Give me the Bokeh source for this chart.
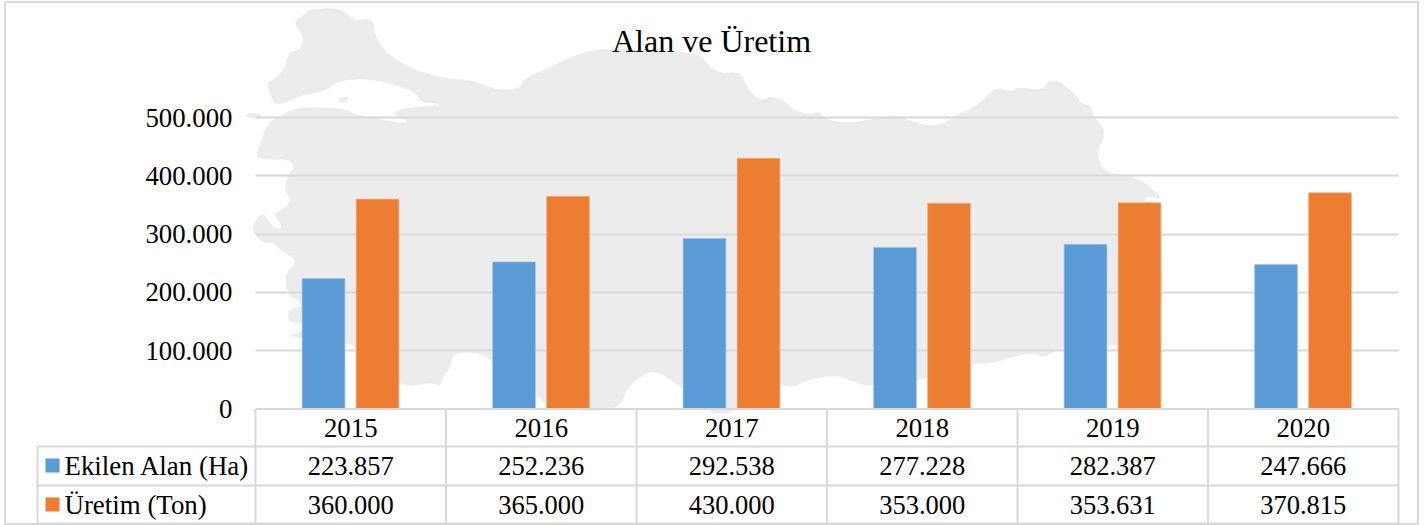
from bokeh.plotting import figure
from bokeh.models import (ColumnDataSource, Range1d, FixedTicker, Label, PolyAnnotation)
from bokeh.transform import dodge
from bokeh.embed import file_html
from bokeh.resources import INLINE

title_text = "Alan ve Üretim"
years = ["2015", "2016", "2017", "2018", "2019", "2020"]
series_names = ["Ekilen Alan (Ha)", "Üretim (Ton)"]
ekilen_alan = [223857, 252236, 292538, 277228, 282387, 247666]
uretim = [360000, 365000, 430000, 353000, 353631, 370815]
y_ticks = [0, 100000, 200000, 300000, 400000, 500000]
y_tick_labels = ["0", "100.000", "200.000", "300.000", "400.000", "500.000"]

BLUE = "#5b9bd5"
ORANGE = "#ed7d31"
LINE = "#d9d9d9"
MAP = "#ececec"
FONT = "Liberation Serif"

# decorative silhouette behind the plot, page pixels
map_outline = [
    (292,22),(307,12),(308,9),(335,7),(345,12),(353,20),(373,18),(375,37),(387,53),(410,68),(443,78),(470,79),
    (497,90),(520,88),(523,78),(547,68),(580,52),(612,47),(700,52),(707,65),(720,73),(740,71),(747,88),(760,101),
    (770,95),(787,102),(790,108),(810,115),(818,110),(823,118),(847,123),(873,118),(898,114),(907,120),(937,127),
    (960,112),(977,105),(995,86),(1010,92),(1017,86),(1043,90),(1047,80),(1058,80),(1077,95),(1080,103),(1091,105),
    (1092,115),(1103,127),(1104,138),(1096,150),(1102,172),(1137,176),(1160,195),(1158,199),(1148,195),(1142,201),
    (1161,202),(1163,345),(1063,345),(1043,358),
    (1033,352),(1010,357),(987,364),(970,362),(920,380),(873,387),(850,380),(833,374),(800,382),(793,387),(780,384),
    (740,381),(737,413),(710,413),(700,400),(682,387),(668,378),(653,370),(640,376),(627,387),(620,407),(590,411),
    (547,407),(535,393),(492,360),(477,352),(453,352),(450,367),(442,377),(440,386),(430,382),(400,387),(370,352),
    (345,342),(303,338),(287,335),(303,331),(303,322),(292,323),(286,317),(290,308),(303,305),(295,298),(290,297),
    (285,285),(285,273),(295,263),(293,257),
    (280,250),(273,242),(263,243),(253,233),(252,225),(262,210),(273,228),(283,228),(273,213),(278,212),(292,200),
    (285,193),(285,180),(297,159),(255,159),(258,147),(267,123),(280,115),(297,107),(327,107),(343,108),(358,115),
    (373,117),(397,122),(410,122),(393,115),(397,108),(447,104),(420,102),(418,95),(407,88),(370,78),(338,80),
    (327,90),(300,95),(275,107),(268,90),(267,82),(275,78),(285,68),(287,53),(302,48),(302,32),
]
map_islet_a = [(244,115),(250,112),(260,113),(260,117),(250,118)]
map_islet_b = [(337,97),(348,96),(348,100),(340,103)]

def smooth(pts, rounds=2):
    for _ in range(rounds):
        out = []
        for i, (x0, y0) in enumerate(pts):
            x1, y1 = pts[(i + 1) % len(pts)]
            out.append((0.75 * x0 + 0.25 * x1, 0.75 * y0 + 0.25 * y1))
            out.append((0.25 * x0 + 0.75 * x1, 0.25 * y0 + 0.75 * y1))
        pts = out
    return pts

W, H = 1424, 525
PLOT_L, PLOT_R, ZERO_Y, TOP_Y = 255, 1398, 408.5, 117
STEP = (PLOT_R - PLOT_L) / len(years)
per_px = 500000 / (ZERO_Y - TOP_Y)

xpos = [i + 0.5 for i in range(len(years))]
src = ColumnDataSource(dict(x=xpos, a=ekilen_alan, b=uretim))

p = figure(width=W, height=H, output_backend="svg", toolbar_location=None,
           x_range=Range1d(-PLOT_L / STEP, (W - PLOT_L) / STEP),
           y_range=Range1d((ZERO_Y - H) * per_px, ZERO_Y * per_px),
           min_border=0, background_fill_color="white", border_fill_color="white", outline_line_color=None)

def poly(pts, **kw):
    a = PolyAnnotation(xs=[q[0] for q in pts], ys=[q[1] for q in pts],
                       xs_units="canvas", ys_units="canvas", **kw)
    p.add_layout(a)
    return a

def rule(pts, width=2):
    poly(pts, fill_alpha=0, line_color=LINE, line_alpha=1, line_width=width)

for shape in (map_outline, map_islet_a, map_islet_b):
    poly(smooth(shape), fill_color=MAP, fill_alpha=1, line_color=None, level="image")

p.vbar(x=dodge("x", -0.143), top="a", width=0.2245, bottom=0, source=src,
       fill_color=BLUE, line_color="#9dc3e6", line_width=0.7)
p.vbar(x=dodge("x", 0.1405), top="b", width=0.2245, bottom=0, source=src,
       fill_color=ORANGE, line_color="#f4b183", line_width=0.7)

p.xgrid.visible = False
p.ygrid.ticker = FixedTicker(ticks=y_ticks[1:])
p.ygrid.grid_line_color = LINE
p.ygrid.grid_line_width = 2
p.ygrid[0].cross_bounds = (0, len(years))

yax = p.yaxis[0]
yax.ticker = FixedTicker(ticks=y_ticks)
yax.major_label_overrides = {t: s for t, s in zip(y_ticks, y_tick_labels)}
yax.axis_line_color = None
yax.major_tick_line_color = None
yax.minor_tick_line_color = None
yax.major_label_standoff = -238
yax.major_label_text_font = FONT
yax.major_label_text_font_size = "26.8px"
yax.major_label_text_color = "black"

xax = p.xaxis[0]
xax.ticker = FixedTicker(ticks=xpos)
xax.major_label_overrides = {t: s for t, s in zip(xpos, years)}
xax.axis_line_color = None
xax.major_tick_line_color = None
xax.minor_tick_line_color = None
xax.major_label_standoff = -113
xax.major_label_text_font = FONT
xax.major_label_text_font_size = "26.8px"
xax.major_label_text_color = "black"

# table rules
col_edges = [PLOT_L + STEP * i for i in range(len(years) + 1)]
for x in col_edges:
    rule([(x, 408.5), (x, 523)])
rule([(37, 446), (37, 523)])
rule([(255, 408.5), (1398, 408.5)])
for y in (446, 485, 523):
    rule([(37, y), (1398, y)])
# chart border
rule([(4.5, 1.5), (1417.5, 1.5), (1417.5, 523.5), (4.5, 523.5)])

# legend keys
poly([(45, 458), (59, 458), (59, 472), (45, 472)], fill_color=BLUE, fill_alpha=1, line_color=None)
poly([(45, 497), (59, 497), (59, 511), (45, 511)], fill_color=ORANGE, fill_alpha=1, line_color=None)

def text(x, y, s, align="center", size="26.5px"):
    p.add_layout(Label(x=x, y=y, x_units="canvas", y_units="canvas", text=s, text_font=FONT,
                       text_font_size=size, text_align=align, text_baseline="middle", text_color="black"))

text(711, 40.5, title_text, size="32px")
text(64, 465, series_names[0], align="left", size="26.9px")
text(64, 504, series_names[1], align="left", size="26.9px")
fmt = lambda v: f"{v:,}".replace(",", ".")
centers = [(col_edges[i] + col_edges[i + 1]) / 2 for i in range(6)]
for c, a, b in zip(centers, ekilen_alan, uretim):
    text(c, 465, fmt(a))
    text(c, 504, fmt(b))

open("out.html", "w").write(file_html(p, INLINE))
